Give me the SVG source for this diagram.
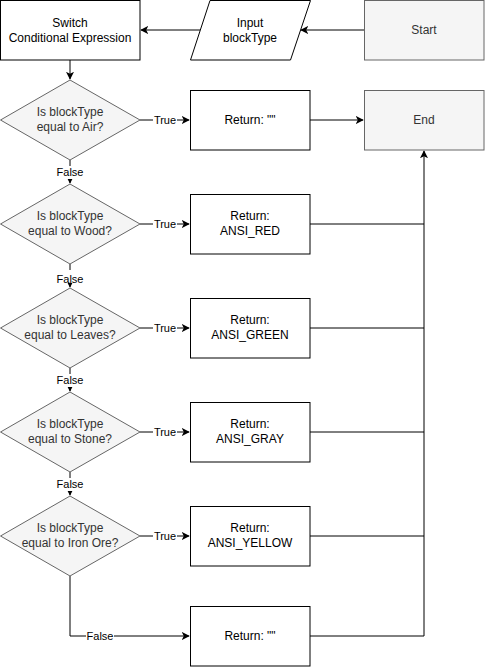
<svg xmlns="http://www.w3.org/2000/svg" width="485" height="667" viewBox="0 0 485 667">
<style>
.box{fill:#ffffff;stroke:#000000;stroke-width:1}
.gray{fill:#f5f5f5;stroke:#666666;stroke-width:1}
.t{font-family:"Liberation Sans",Arial,sans-serif;font-size:12px;fill:#000000;text-anchor:middle}
.tg{font-family:"Liberation Sans",Arial,sans-serif;font-size:12px;fill:#333333;text-anchor:middle}
.lbl{font-family:"Liberation Sans",Arial,sans-serif;font-size:11px;fill:#000000;text-anchor:middle}
.e{fill:none;stroke:#000000;stroke-width:1}
.lb{fill:#ffffff}
</style>
<defs>
<marker id="a" viewBox="0 0 10 10" refX="9" refY="5" markerWidth="8" markerHeight="8" markerUnits="userSpaceOnUse" orient="auto">
<path d="M0,0 L10,5 L0,10 L2.5,5 Z" fill="#000"/>
</marker>
</defs>
<g id="connectors">
<path class="e" d="M364,30 L301,30" marker-end="url(#a)"/>
<path class="e" d="M200,30 L141,30" marker-end="url(#a)"/>
<path class="e" d="M70,60 L70,79" marker-end="url(#a)"/>
<path class="e" d="M140,120 L189,120" marker-end="url(#a)"/>
<path class="e" d="M140,224 L189,224" marker-end="url(#a)"/>
<path class="e" d="M140,328 L189,328" marker-end="url(#a)"/>
<path class="e" d="M140,432 L189,432" marker-end="url(#a)"/>
<path class="e" d="M140,536 L189,536" marker-end="url(#a)"/>
<path class="e" d="M70,160 L70,183" marker-end="url(#a)"/>
<path class="e" d="M70,264 L70,287" marker-end="url(#a)"/>
<path class="e" d="M70,368 L70,391" marker-end="url(#a)"/>
<path class="e" d="M70,472 L70,495" marker-end="url(#a)"/>
<path class="e" d="M70,576 L70,636 L189,636" marker-end="url(#a)"/>
<path class="e" d="M310,120 L363,120" marker-end="url(#a)"/>
<path class="e" d="M310,224 L424,224 L424,151" marker-end="url(#a)"/>
<path class="e" d="M310,328 L424,328 L424,224"/>
<path class="e" d="M310,432 L424,432 L424,328"/>
<path class="e" d="M310,536 L424,536 L424,432"/>
<path class="e" d="M310,636 L424,636 L424,536"/>
<rect class="lb" x="153" y="113" width="24" height="13"/><text class="lbl" x="165" y="124">True</text>
<rect class="lb" x="153" y="217" width="24" height="13"/><text class="lbl" x="165" y="228">True</text>
<rect class="lb" x="153" y="321" width="24" height="13"/><text class="lbl" x="165" y="332">True</text>
<rect class="lb" x="153" y="425" width="24" height="13"/><text class="lbl" x="165" y="436">True</text>
<rect class="lb" x="153" y="529" width="24" height="13"/><text class="lbl" x="165" y="540">True</text>
<rect class="lb" x="56" y="166" width="28" height="13"/><text class="lbl" x="70" y="176">False</text>
<rect class="lb" x="56" y="270" width="28" height="13"/><text class="lbl" x="70" y="283">False</text>
<rect class="lb" x="56" y="374" width="28" height="13"/><text class="lbl" x="70" y="384">False</text>
<rect class="lb" x="56" y="478" width="28" height="13"/><text class="lbl" x="70" y="488">False</text>
<rect class="lb" x="86" y="629" width="28" height="13"/><text class="lbl" x="100" y="640">False</text>
</g>
<g id="switch"><rect class="box" x="0.5" y="0.5" width="139.5" height="59.5"/><text class="t" x="70" y="27">Switch</text><text class="t" x="70" y="42">Conditional Expression</text></g>
<g id="input"><path class="box" d="M210,0.5 L310.5,0.5 L290.5,60 L190.5,60 Z"/><text class="t" x="250" y="27">Input</text><text class="t" x="250" y="42">blockType</text></g>
<g id="start"><rect class="gray" x="364.5" y="0.5" width="119.5" height="59.5"/><text class="tg" x="424" y="34">Start</text></g>
<g id="end"><rect class="gray" x="364.5" y="90.5" width="119.5" height="59.5"/><text class="tg" x="424" y="124">End</text></g>
<g id="d1"><path class="gray" d="M70,80 L140,120 L70,160 L0.5,120 Z"/><text class="tg" x="70" y="116">Is blockType</text><text class="tg" x="70" y="131">equal to Air?</text></g>
<g id="d2"><path class="gray" d="M70,184 L140,224 L70,264 L0.5,224 Z"/><text class="tg" x="70" y="220">Is blockType</text><text class="tg" x="70" y="235">equal to Wood?</text></g>
<g id="d3"><path class="gray" d="M70,288 L140,328 L70,368 L0.5,328 Z"/><text class="tg" x="70" y="324">Is blockType</text><text class="tg" x="70" y="339">equal to Leaves?</text></g>
<g id="d4"><path class="gray" d="M70,392 L140,432 L70,472 L0.5,432 Z"/><text class="tg" x="70" y="428">Is blockType</text><text class="tg" x="70" y="443">equal to Stone?</text></g>
<g id="d5"><path class="gray" d="M70,496 L140,536 L70,576 L0.5,536 Z"/><text class="tg" x="70" y="532">Is blockType</text><text class="tg" x="70" y="547">equal to Iron Ore?</text></g>
<g id="r1"><rect class="box" x="190.5" y="90.5" width="119.5" height="59.5"/><text class="t" x="250" y="124">Return: ""</text></g>
<g id="r2"><rect class="box" x="190.5" y="194.5" width="119.5" height="59.5"/><text class="t" x="250" y="220">Return:</text><text class="t" x="250" y="235">ANSI_RED</text></g>
<g id="r3"><rect class="box" x="190.5" y="298.5" width="119.5" height="59.5"/><text class="t" x="250" y="324">Return:</text><text class="t" x="250" y="339">ANSI_GREEN</text></g>
<g id="r4"><rect class="box" x="190.5" y="402.5" width="119.5" height="59.5"/><text class="t" x="250" y="428">Return:</text><text class="t" x="250" y="443">ANSI_GRAY</text></g>
<g id="r5"><rect class="box" x="190.5" y="506.5" width="119.5" height="59.5"/><text class="t" x="250" y="532">Return:</text><text class="t" x="250" y="547">ANSI_YELLOW</text></g>
<g id="r6"><rect class="box" x="190.5" y="606.5" width="119.5" height="59.5"/><text class="t" x="250" y="640">Return: ""</text></g>
</svg>
